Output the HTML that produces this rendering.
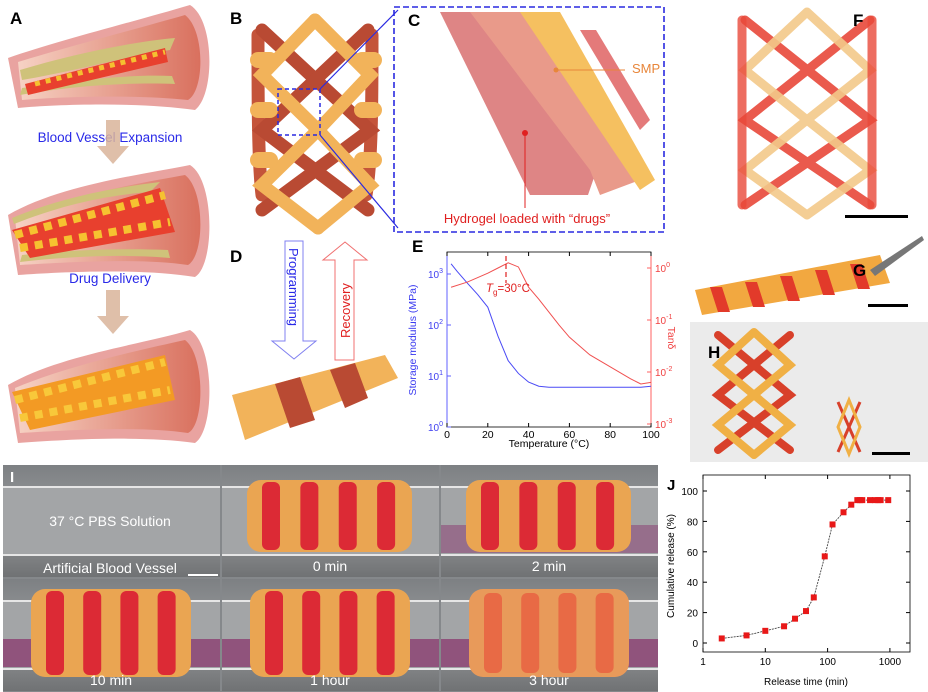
<!DOCTYPE html>
<html><head><meta charset="utf-8"><style>
html,body{margin:0;padding:0;background:#fff;width:928px;height:692px;overflow:hidden}
svg{display:block;font-family:"Liberation Sans",sans-serif}
</style></head><body>
<svg id="fig" width="928" height="692" viewBox="0 0 928 692">
<defs>
<linearGradient id="vesselIn" x1="0" x2="1"><stop offset="0" stop-color="#f6d2c4"/><stop offset="1" stop-color="#d9705e"/></linearGradient>
<linearGradient id="gray" x1="0" y1="0" x2="0" y2="1"><stop offset="0" stop-color="#7d8083"/><stop offset="0.5" stop-color="#9a9c9e"/><stop offset="1" stop-color="#707274"/></linearGradient>
</defs>

<!-- Panel A -->
<g>
<text x="10" y="24" font-size="17" font-weight="bold">A</text>
<g>
<path d="M8,58 C60,40 140,20 190,5 C215,20 215,95 195,110 C140,102 60,104 18,108 Z" fill="#e9a3a0"/>
<path d="M18,62 C70,46 140,28 185,15 C205,30 205,90 188,100 C140,95 70,96 22,100 Z" fill="url(#vesselIn)"/>
<path d="M20,70 C70,55 130,42 175,38 L170,50 C120,58 70,72 22,80 Z" fill="#cfc27a"/>
<path d="M20,95 C70,86 130,82 175,84 L172,76 C120,74 70,82 22,88 Z" fill="#cfc27a"/>
<path d="M25,84 L165,48 L168,62 L28,95 Z" fill="#e8402e"/>
<path d="M35,84 L165,52" stroke="#f5c030" stroke-width="5" stroke-dasharray="5 6"/>
</g>
<text x="110" y="142" font-size="13.5" fill="#2a2ae8" text-anchor="middle">Blood Vessel Expansion</text>
<path d="M106,120 h14 v26 h9 l-16,18 l-16,-18 h9 z" fill="#d9b49a" opacity="0.85"/>
<g>
<path d="M8,215 C60,185 140,175 190,165 C215,180 215,265 195,277 C140,268 60,272 18,275 Z" fill="#e9a3a0"/>
<path d="M15,218 C70,195 140,183 185,175 C205,190 205,255 188,265 C140,258 70,262 20,265 Z" fill="url(#vesselIn)"/>
<path d="M12,218 C60,198 110,188 160,182 L150,192 C100,196 60,206 14,224 Z" fill="#cfc27a"/>
<path d="M20,262 C70,256 130,254 170,258 L168,250 C120,248 70,250 22,255 Z" fill="#cfc27a"/>
<path d="M12,230 L160,188 L175,232 L30,258 Z" fill="#e8402e"/>
<path d="M15,235 L165,195 M20,248 L170,222" stroke="#f6c230" stroke-width="8" stroke-dasharray="8 7"/>
</g>
<text x="110" y="283" font-size="13.5" fill="#2a2ae8" text-anchor="middle">Drug Delivery</text>
<path d="M106,290 h14 v26 h9 l-16,18 l-16,-18 h9 z" fill="#d9b49a" opacity="0.85"/>
<g>
<path d="M8,385 C60,355 140,345 190,330 C215,345 215,430 195,443 C140,435 60,440 18,443 Z" fill="#e9a3a0"/>
<path d="M15,388 C70,365 140,350 185,340 C205,355 205,425 188,433 C140,426 70,430 20,433 Z" fill="url(#vesselIn)"/>
<path d="M12,392 L165,355 L175,400 L30,430 Z" fill="#f39a24"/>
<path d="M15,400 L165,362 M20,418 L170,390" stroke="#f8c83a" stroke-width="8" stroke-dasharray="8 7"/>
</g>
</g>

<!-- Panel B -->
<g>
<text x="230" y="24" font-size="17" font-weight="bold">B</text>
<g stroke-linecap="round" stroke-width="13" fill="none">
<path d="M258,35 C258,100 258,160 262,195" stroke="#c4543a"/>
<path d="M372,35 C372,100 372,160 366,195" stroke="#c4543a"/>
<path d="M262,30 L370,130 L262,210" stroke="#b94a33"/>
<path d="M368,30 L262,130 L368,210" stroke="#b94a33"/>
<path d="M315,20 L262,75 L318,130 L262,185 L318,228" stroke="#f2b35a"/>
<path d="M315,20 L370,75 L318,130 L370,185 L318,228" stroke="#f2b35a"/>
<path d="M258,60 h12 M258,110 h12 M258,160 h12 M362,60 h12 M362,110 h12 M362,160 h12" stroke="#f2b35a" stroke-width="16"/>
</g>
<rect x="278" y="89" width="42" height="46" fill="none" stroke="#2a2ae0" stroke-width="1.5" stroke-dasharray="4 3"/>
<line x1="320" y1="89" x2="398" y2="10" stroke="#2a2ae0" stroke-width="1.2"/>
<line x1="320" y1="135" x2="398" y2="228" stroke="#2a2ae0" stroke-width="1.2"/>
</g>

<!-- Panel C -->
<g>
<rect x="394" y="7" width="270" height="225" fill="none" stroke="#2a2ae0" stroke-width="1.6" stroke-dasharray="6 3"/>
<text x="408" y="26" font-size="17" font-weight="bold">C</text>
<path d="M440,12 L500,12 L600,160 L588,195 L530,195 Z" fill="#d87070" opacity="0.85"/>
<path d="M470,12 L540,12 L640,180 L600,195 L590,170 Z" fill="#e99a8a"/>
<path d="M520,12 L560,12 L655,180 L640,190 Z" fill="#f5c060"/>
<path d="M580,30 L596,30 L650,120 L640,130 Z" fill="#e47a7a"/>
<line x1="556" y1="70" x2="625" y2="70" stroke="#e8863a" stroke-width="1"/>
<circle cx="556" cy="70" r="2.5" fill="#e8863a"/>
<text x="632" y="73" font-size="13" fill="#e8863a">SMP</text>
<line x1="525" y1="133" x2="525" y2="208" stroke="#e02020" stroke-width="1"/>
<circle cx="525" cy="133" r="3" fill="#e02020"/>
<text x="527" y="223" font-size="13" fill="#e02020" text-anchor="middle">Hydrogel loaded with “drugs”</text>
</g>

<!-- Panel D -->
<g>
<text x="230" y="262" font-size="17" font-weight="bold">D</text>
<path d="M285,241 h18 v100 h13 l-22,18 l-22,-18 h13 z" fill="none" stroke="#8080f0" stroke-width="1"/>
<text transform="translate(289,248) rotate(90)" font-size="13" fill="#2a2ae8">Programming</text>
<path d="M335,360 h19 v-100 h13 l-22,-18 l-22,18 h12 z" fill="none" stroke="#f07070" stroke-width="1"/>
<text transform="translate(350,338) rotate(-90)" font-size="13" fill="#e02020">Recovery</text>
<g>
<path d="M232,395 L385,355 L398,378 L245,440 Z" fill="#f2b35a"/>
<path d="M275,384 L300,377 L315,420 L290,428 Z M330,370 L355,363 L368,398 L345,408 Z" fill="#b94a33"/>
</g>
</g>

<!-- Panel E chart -->
<g id="chartE">
<text x="412" y="252" font-size="17" font-weight="bold">E</text>
<rect x="447" y="252" width="204" height="175" fill="none" stroke="#000" stroke-width="0.8"/>
<line x1="447" y1="252" x2="447" y2="427" stroke="#6060ff" stroke-width="1"/>
<line x1="651" y1="252" x2="651" y2="427" stroke="#ff6060" stroke-width="1"/>
<g id="eTicks"></g>
<g id="eMarks"></g>
<text x="549" y="447" font-size="10.5" text-anchor="middle">Temperature (°C)</text>
<text transform="translate(416,340) rotate(-90)" font-size="10.5" fill="#3a3af0" text-anchor="middle">Storage modulus (MPa)</text>
<text transform="translate(668,338) rotate(90)" font-size="10.5" fill="#f04040" text-anchor="middle">Tanδ</text>
<line x1="506" y1="256" x2="506" y2="283" stroke="#e02020" stroke-width="1.2" stroke-dasharray="5 3"/>
<text x="486" y="292" font-size="11.5" fill="#e02020"><tspan font-style="italic">T</tspan><tspan font-size="8" dy="3">g</tspan><tspan dy="-3">=30°C</tspan></text>
</g>

<!-- Panels F G H -->
<g>
<g stroke-width="9" stroke-linecap="round" fill="none">
<path d="M745,20 L870,120 L745,205 M870,20 L745,120 L870,205" stroke="#e8483a" opacity="0.9"/>
<path d="M807,12 L745,70 L807,120 L745,170 L807,215 M807,12 L870,70 L807,120 L870,170 L807,215" stroke="#f3c98a" opacity="0.9"/>
<path d="M742,20 V205 M872,20 V205" stroke="#e8483a" opacity="0.8"/>
</g>
<text x="853" y="26" font-size="17" font-weight="bold">F</text>
<rect x="845" y="215" width="63" height="3" fill="#000"/>
</g>
<g>
<path d="M695,290 L880,255 L890,283 L702,315 Z" fill="#f2a840"/>
<path d="M710,287 h12 l8,25 h-12 Z M745,282 h12 l8,25 h-12 Z M780,276 h12 l8,25 h-12 Z M815,270 h12 l8,25 h-12 Z M850,264 h12 l8,25 h-12 Z" fill="#e23a2a"/>
<path d="M870,270 L922,236 L924,240 L875,276 Z" fill="#777"/>
<text x="853" y="276" font-size="17" font-weight="bold">G</text>
<rect x="868" y="304" width="40" height="3" fill="#000"/>
</g>
<g>
<rect x="690" y="322" width="238" height="140" fill="#ebebeb"/>
<g stroke-width="8" stroke-linecap="round" fill="none">
<path d="M718,335 L790,395 L718,450 M790,335 L718,395 L790,450" stroke="#d8402a"/>
<path d="M754,332 L718,365 L754,395 L718,425 L754,455 M754,332 L790,365 L754,395 L790,425 L754,455" stroke="#f0b045"/>
</g>
<g stroke-width="3" fill="none"><path d="M838,402 L860,452 M860,402 L838,452" stroke="#d8402a"/><path d="M849,400 L838,427 L849,454 L860,427 Z" stroke="#f0b045"/></g>
<text x="708" y="358" font-size="17" font-weight="bold">H</text>
<rect x="872" y="452" width="38" height="3" fill="#000"/>
</g>

<!-- Panel I -->
<g>
<rect x="3" y="465" width="655" height="227" fill="#85888b"/>
<g id="photos"></g>
<text x="10" y="482" font-size="15" font-weight="bold" fill="#fff">I</text>
<text x="110" y="526" font-size="14" fill="#fff" text-anchor="middle">37 °C PBS Solution</text>
<text x="110" y="573" font-size="14" fill="#fff" text-anchor="middle">Artificial Blood Vessel</text>
<rect x="188" y="574" width="30" height="2" fill="#fff"/>
</g>

<!-- Panel J chart -->
<g id="chartJ">
<text x="667" y="490" font-size="15" font-weight="bold">J</text>
<rect x="703" y="475" width="207" height="177" fill="none" stroke="#000" stroke-width="0.8"/>
<g id="jTicks"></g>
<g id="jMarks"></g>
<text x="806" y="685" font-size="10" text-anchor="middle">Release time (min)</text>
<text transform="translate(674,566) rotate(-90)" font-size="10" text-anchor="middle">Cumulative release (%)</text>
</g>
</svg>
<script>
// Chart E data
const eTempBlue = [2,5,10,15,20,25,30,35,40,45,50,60,70,80,90,95,100];
const eModulusLog = [3.2,3.05,2.82,2.6,2.35,1.78,1.3,1.05,0.88,0.8,0.78,0.78,0.78,0.78,0.78,0.78,0.8];
const eTempRed = [2,10,20,25,30,35,40,45,50,55,60,70,80,90,95,100];
const eTanLog = [-0.37,-0.27,-0.1,0,0.1,0.02,-0.37,-0.6,-0.85,-1.1,-1.33,-1.67,-1.9,-2.13,-2.23,-2.2];
const eXTicks = [0,20,40,60,80,100];
const eLeftTicks = [0,1,2,3];
const eRightTicks = [0,-1,-2,-3];
// Chart J data
const jTimes = [2,5,10,20,30,45,60,90,120,180,240,300,330,360,480,575,650,710,940];
const jRelease = [3,5,8,11,16,21,30,57,78,86,91,94,94,94,94,94,94,94,94];
const jYTicks = [0,20,40,60,80,100];
const jXTicks = [1,10,100,1000];

const NS="http://www.w3.org/2000/svg";
function mk(tag,attrs,parent,txt){const e=document.createElementNS(NS,tag);for(const k in attrs)e.setAttribute(k,attrs[k]);if(txt!==undefined)e.textContent=txt;parent.appendChild(e);return e;}

// E axes
const exS=t=>447+t*2.04;
const eyL=l=>427-l*51;
const eyR=l=>268-l*52;
const et=document.getElementById('eTicks');
eXTicks.forEach(v=>{const x=exS(v);mk('line',{x1:x,y1:427,x2:x,y2:423,stroke:'#000'},et);mk('line',{x1:x,y1:252,x2:x,y2:256,stroke:'#000'},et);
 const t=mk('text',{x:x,y:438,'font-size':10.5,'text-anchor':'middle'},et,String(v));
 
 });
eLeftTicks.forEach(v=>{const y=eyL(v);mk('line',{x1:447,y1:y,x2:451,y2:y,stroke:'#6060ff'},et);
 const t=mk('text',{x:443,y:y+4,'font-size':10,'text-anchor':'end',fill:'#4040f0'},et);
 t.innerHTML='10<tspan font-size="7" dy="-5">'+v+'</tspan>';
 
 });
eRightTicks.forEach(v=>{const y=eyR(v);mk('line',{x1:651,y1:y,x2:647,y2:y,stroke:'#ff6060'},et);
 const t=mk('text',{x:655,y:y+4,'font-size':10,fill:'#f04040'},et);
 t.innerHTML='10<tspan font-size="7" dy="-5">'+v+'</tspan>';
 
 });
const em=document.getElementById('eMarks');
const pb=mk('polyline',{points:eTempBlue.map((t,i)=>exS(t)+','+eyL(eModulusLog[i])).join(' '),fill:'none',stroke:'#4a4af5','stroke-width':1},em);


const pr=mk('polyline',{points:eTempRed.map((t,i)=>exS(t)+','+eyR(eTanLog[i])).join(' '),fill:'none',stroke:'#f05050','stroke-width':1},em);



// J axes
const jx=t=>703+Math.log10(t)*62.3;
const jy=v=>643-v*1.52;
const jt=document.getElementById('jTicks');
jYTicks.forEach(v=>{const y=jy(v);mk('line',{x1:703,y1:y,x2:707,y2:y,stroke:'#000'},jt);mk('line',{x1:910,y1:y,x2:906,y2:y,stroke:'#000'},jt);
 const t=mk('text',{x:698,y:y+4,'font-size':10,'text-anchor':'end'},jt,String(v));
 
 });
jXTicks.forEach(v=>{const x=jx(v);mk('line',{x1:x,y1:652,x2:x,y2:648,stroke:'#000'},jt);mk('line',{x1:x,y1:475,x2:x,y2:479,stroke:'#000'},jt);
 const t=mk('text',{x:x,y:665,'font-size':10,'text-anchor':'middle'},jt,String(v));
 
 });
const jm=document.getElementById('jMarks');
const jl=mk('polyline',{points:jTimes.map((t,i)=>jx(t)+','+jy(jRelease[i])).join(' '),fill:'none',stroke:'#444','stroke-width':0.9,'stroke-dasharray':'2 1'},jm);


jTimes.forEach((t,i)=>{const r=mk('rect',{x:jx(t)-3,y:jy(jRelease[i])-3,width:6,height:6,fill:'#e81818'},jm);
 
 });

// Panel I photos
const ph=document.getElementById('photos');
const cells=[[3,465,'',0],[222,465,'0 min',1],[441,465,'2 min',1],[3,579,'10 min',1],[222,579,'1 hour',1],[441,579,'3 hour',1]];
cells.forEach((c,k)=>{const [x,y,lab,st]=c;
 const g=mk('g',{},ph);
 
 
 mk('rect',{x:x,y:y,width:217,height:112,fill:'url(#gray)'},g);
 mk('rect',{x:x,y:y+22,width:217,height:68,fill:'#a3a5a7'},g);
 if(k>=2) mk('rect',{x:x,y:y+60,width:217,height:28,fill:'#8e4a78',opacity:k>=3?0.9:0.6},g);
 mk('line',{x1:x,y1:y+22,x2:x+217,y2:y+22,stroke:'#e6e6e6','stroke-width':2},g);
 mk('line',{x1:x,y1:y+90,x2:x+217,y2:y+90,stroke:'#e6e6e6','stroke-width':2},g);
 if(st){const sx=x+(k>=3?28:25),sy=y+(k>=3?10:15),w=k>=3?160:165,h=k>=3?88:72;
  mk('rect',{x:sx,y:sy,width:w,height:h,rx:14,fill:k==5?'#e89a5a':'#eaa552'},g);
  if(k!=5)[0,1,2,3].forEach(j=>mk('rect',{x:sx+15+j*w/4.3,y:sy+2,width:18,height:h-4,rx:6,fill:'#dc2a35'},g));
  else [0,1,2,3].forEach(j=>mk('rect',{x:sx+15+j*w/4.3,y:sy+4,width:18,height:h-8,rx:6,fill:'#e86a45'},g));
  mk('text',{x:x+108,y:y+106,'font-size':14,fill:'#fff','text-anchor':'middle'},g,lab);}
});
</script>
</body></html>
